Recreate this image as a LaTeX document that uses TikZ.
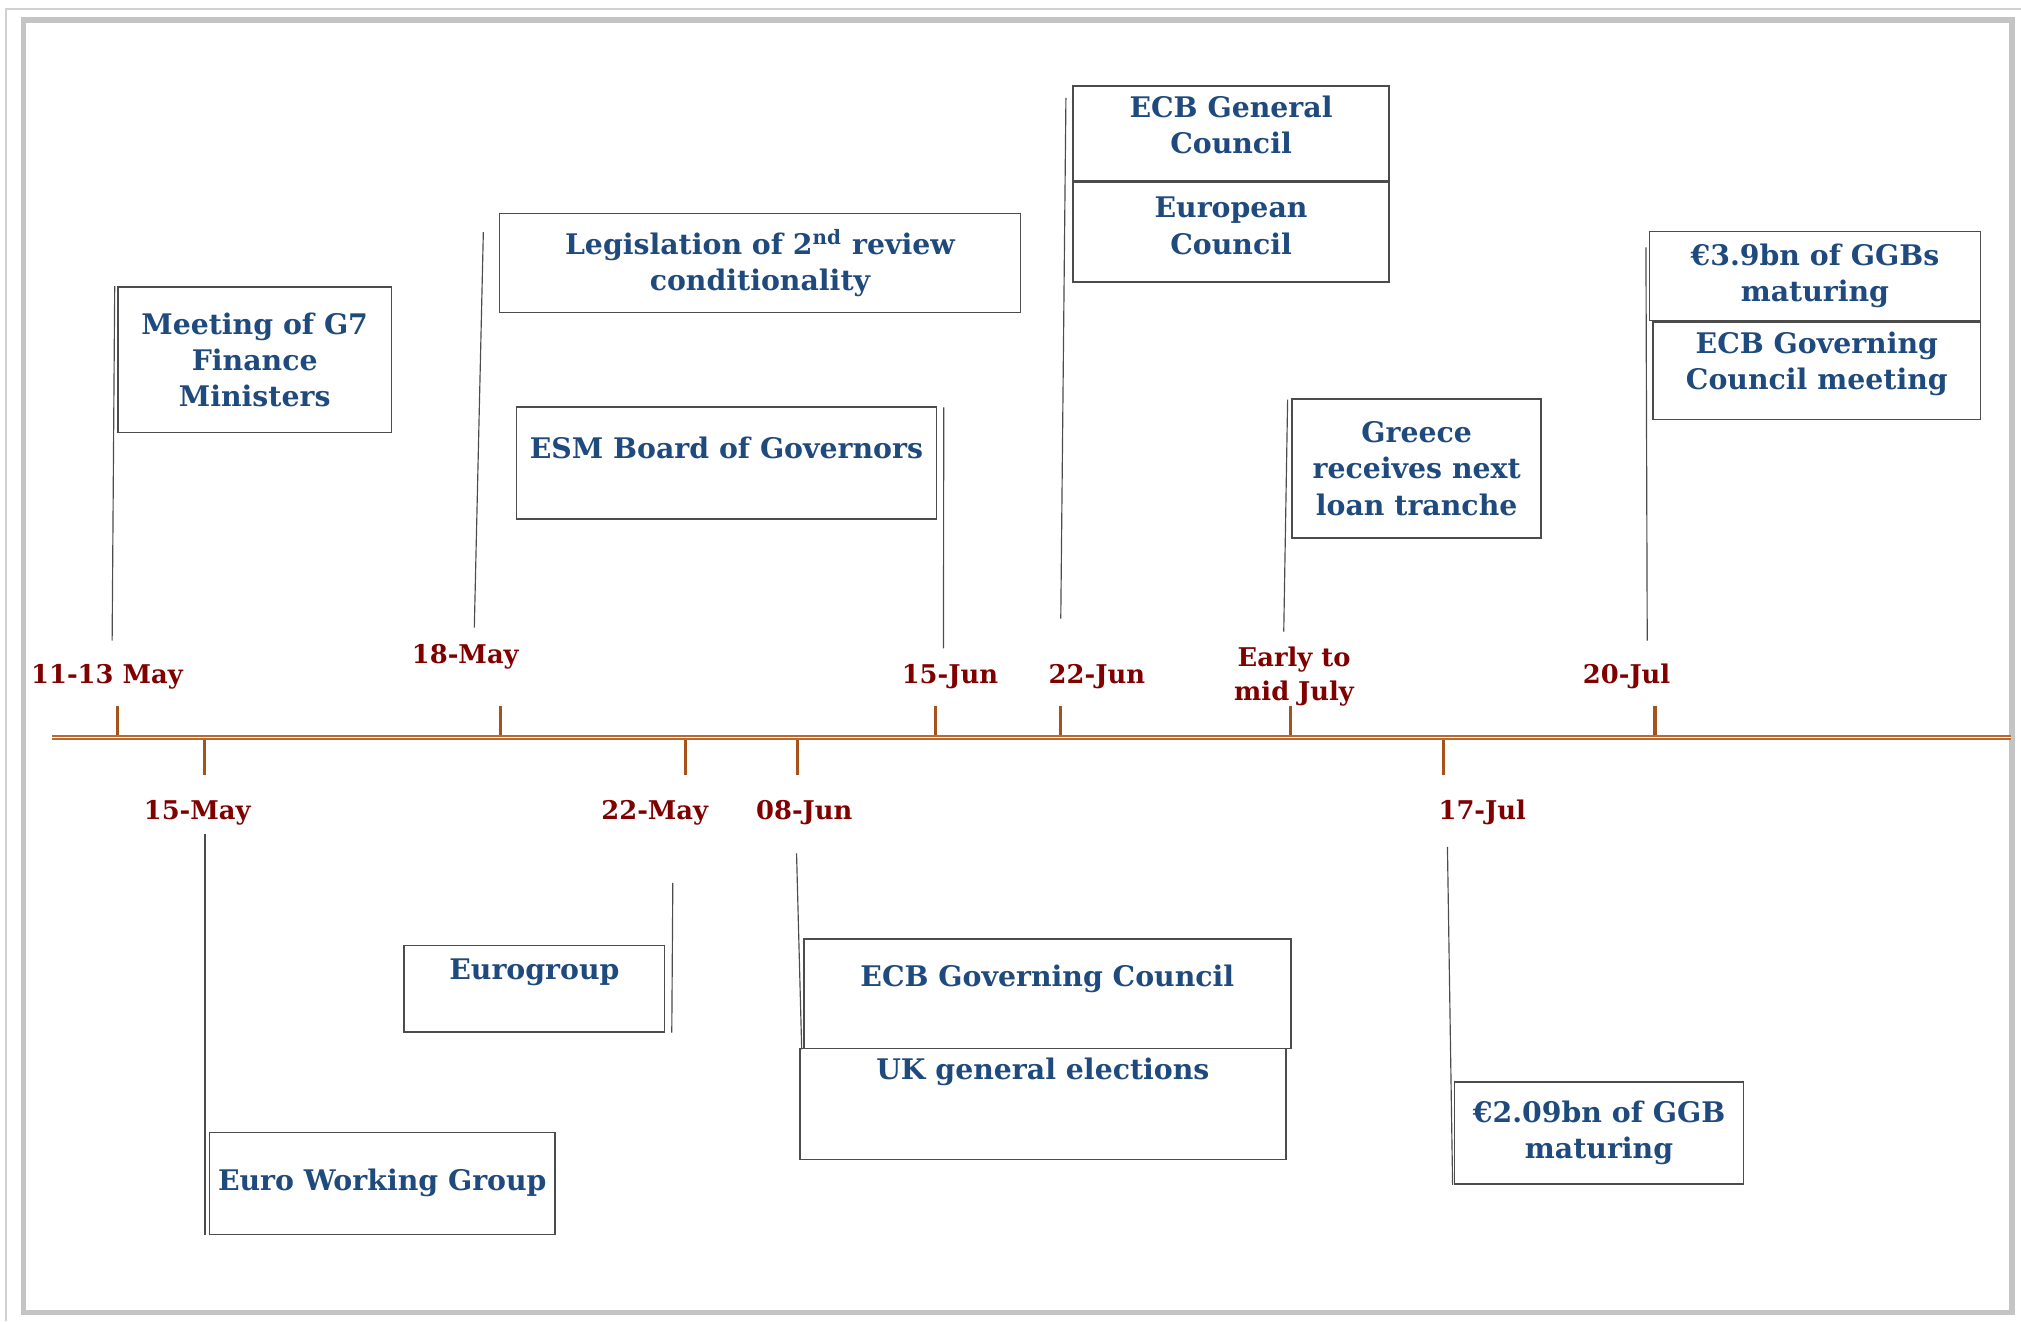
\documentclass[tikz,border=0pt]{standalone}
\usepackage{fontspec}
\setmainfont{DejaVu Serif}
\usetikzlibrary{positioning}
\definecolor{navytext}{HTML}{1F4A7E}
\definecolor{datered}{HTML}{800000}
\definecolor{axisbrown}{HTML}{B86A30}
\definecolor{tickbrown}{HTML}{A5531A}
\definecolor{framegray}{HTML}{C4C4C4}

\begin{document}
\begin{tikzpicture}[x=0.5pt, y=-0.5pt,
    evbox/.style={rectangle, draw=black!70, line width=0.6pt, anchor=north west, align=center, inner sep=2pt, font=\fontsize{11}{14}\selectfont\bfseries, text=navytext},
    datelbl/.style={font=\fontsize{10}{13}\selectfont\bfseries, text=datered, align=center, inner sep=1pt, anchor=base},
    leader/.style={draw=black!70, line width=0.45pt},
    tickmark/.style={draw=tickbrown, line width=1.2pt}
]
    \useasboundingbox (0,0) rectangle (1568,1025);

    % frames
    \draw[framegray!80, line width=0.8pt] (5,1025) -- (5,7) -- (1568,7);
    \draw[framegray, line width=2pt] (18,15.5) rectangle (1561,1018);

    % time axis and ticks
    \draw[axisbrown, line width=0.75pt, double=white, double distance=0.5pt] (40,572) -- (1560,572);
    \foreach \x in {91,388,726,823,1001,1284}
        \draw[tickmark] (\x,548) -- (\x,570);
    \foreach \x in {159,532,619,1120}
        \draw[tickmark] (\x,574) -- (\x,601);

    % dates above the axis
    \node[datelbl] (d1113) at (83,530) {11-13 May};
    \node[datelbl] (d18may) at (361,515) {18-May};
    \node[datelbl] (d15jun) at (737,530) {15-Jun};
    \node[datelbl] (d22jun) at (851,530) {22-Jun};
    \node[datelbl, anchor=center] (dearly) at (1004,525) {Early to\\mid July};
    \node[datelbl] (d20jul) at (1262,530) {20-Jul};

    % dates below the axis
    \node[datelbl] (d15may) at (153,636) {15-May};
    \node[datelbl] (d22may) at (508,636) {22-May};
    \node[datelbl] (d08jun) at (624,636) {08-Jun};
    \node[datelbl] (d17jul) at (1150,636) {17-Jul};

    % events, upper half
    \node[evbox, minimum width=106pt, minimum height=56.5pt] (g7) at (91,222) {Meeting of G7\\Finance\\Ministers};
    \node[evbox, minimum width=202pt, minimum height=38.5pt] (legis) at (387,165) {Legislation of 2\textsuperscript{nd} review\\conditionality};
    \node[evbox, minimum width=163pt, minimum height=43.5pt, text depth=11.5pt] (esm) at (400,315) {ESM Board of Governors};
    \node[evbox, minimum width=122.5pt, minimum height=37pt, text depth=7pt] (ecbgen) at (832,66) {ECB General\\Council};
    \node[evbox, minimum width=122.5pt, minimum height=38.5pt, text depth=5pt] (eucoun) at (832,141) {European\\Council};
    \node[evbox, minimum width=96.5pt, minimum height=54pt] (greece) at (1002,309) {Greece\\receives next\\loan tranche};
    \node[evbox, minimum width=128.5pt, minimum height=34.5pt] (ggb39) at (1279,179) {€3.9bn of GGBs\\maturing};
    \node[evbox, minimum width=127pt, minimum height=38pt, text depth=7.5pt] (ecbgcm) at (1282,249) {ECB Governing\\Council meeting};

    % events, lower half
    \node[evbox, minimum width=101pt, minimum height=33.5pt, text depth=15pt] (eurog) at (313,733) {Eurogroup};
    \node[evbox, minimum width=189pt, minimum height=42.5pt, text depth=14pt] (ecbgc) at (623,728) {ECB Governing Council};
    \node[evbox, minimum width=188.5pt, minimum height=43pt, text depth=27.5pt] (ukge) at (620,813) {UK general elections};
    \node[evbox, minimum width=134pt, minimum height=39.5pt] (ewg) at (162,878) {Euro Working Group};
    \node[evbox, minimum width=112pt, minimum height=39.5pt] (ggb209) at (1128,839) {€2.09bn of GGB\\maturing};

    % leader lines from the axis to the events
    \coordinate (t1113) at (87,497);
    \coordinate (t18may) at (368,487);
    \coordinate (t15jun) at (732,503);
    \coordinate (t22jun) at (823,480);
    \coordinate (tearly) at (996,490);
    \coordinate (t20jul) at (1278,497);
    \coordinate (t15may) at (159,647);
    \coordinate (t22may) at (522,685);
    \coordinate (t08jun) at (618,662);
    \coordinate (t17jul) at (1123,657);

    \draw[leader] (t1113) -- ([xshift=-1pt]g7.north west);
    \draw[leader] (t18may) -- ([xshift=-6pt,yshift=-7.5pt]legis.north west);
    \draw[leader] (t15jun) -- ([xshift=2.5pt,yshift=-0.5pt]esm.north east);
    \draw[leader] (t22jun) -- ([xshift=-2.5pt,yshift=-5pt]ecbgen.north west);
    \draw[leader] (tearly) -- ([xshift=-1.5pt,yshift=-0.5pt]greece.north west);
    \draw[leader] (t20jul) -- ([xshift=-1pt,yshift=-6.5pt]ggb39.north west);
    \draw[leader] (t15may) -- ([xshift=-1.5pt]ewg.south west);
    \draw[leader] (t22may) -- ([xshift=2.5pt]eurog.south east);
    \draw[leader] (t08jun) -- ([xshift=-0.5pt]ecbgc.south west);
    \draw[leader] (t17jul) -- ([xshift=-0.5pt]ggb209.south west);
\end{tikzpicture}
\end{document}
